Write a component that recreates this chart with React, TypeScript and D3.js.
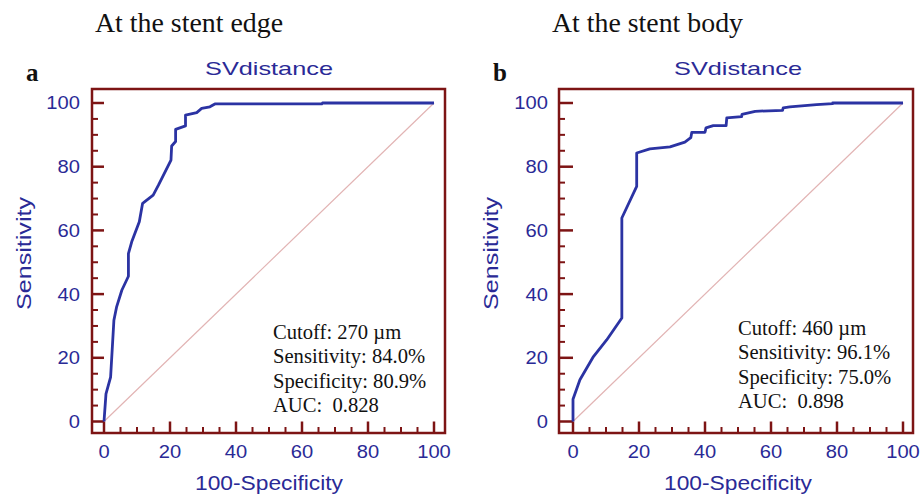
import React from "react";
import * as d3 from "d3";

const ticks = [0, 20, 40, 60, 80, 100];
const minorTicks = d3.range(0, 101, 5);

const edgeFpr = [0, 0.6, 2.0, 3.0, 3.8, 5.4, 7.4, 7.4, 8.4, 10.7, 11.7, 14.9, 16.5, 20.3, 20.5, 21.7, 21.7, 24.7, 24.7, 28.1, 29.6, 32.1, 33.6, 66, 66.2, 100];
const edgeTpr = [0, 8.7, 13.9, 31.8, 35.9, 41.2, 45.6, 52.7, 56.4, 62.7, 68.5, 71.1, 74.2, 82.1, 86.5, 87.9, 91.7, 92.8, 96.2, 97.0, 98.3, 98.8, 99.7, 99.7, 100, 100];

const bodyFpr = [0, 0, 2.1, 6.2, 10.2, 14.8, 14.8, 19.3, 19.3, 23.3, 29.4, 33.9, 35.7, 36.0, 40.0, 40.3, 42.5, 46.4, 46.6, 51.1, 51.2, 55.2, 63.5, 63.7, 65.7, 73.8, 78.7, 78.7, 100];
const bodyTpr = [0, 7.0, 13.1, 20.4, 25.6, 32.5, 63.9, 73.8, 84.3, 85.6, 86.2, 87.7, 89.1, 90.8, 90.8, 92.2, 92.9, 92.9, 95.3, 95.7, 96.4, 97.4, 97.7, 98.5, 98.8, 99.5, 99.8, 100, 100];

const edgeStats = ["Cutoff: 270 \u00b5m", "Sensitivity: 84.0%", "Specificity: 80.9%", "AUC:  0.828"];
const bodyStats = ["Cutoff: 460 \u00b5m", "Sensitivity: 96.1%", "Specificity: 75.0%", "AUC:  0.898"];

const FRAME = "#7d1414";
const BLUE_TXT = "#2a2a96";
const CURVE = "#2b33a3";
const DIAG = "#e2b4b4";
const SANS = "'Liberation Sans', Arial, sans-serif";
const SERIF = "'Liberation Serif', 'Times New Roman', serif";

type PanelProps = {
  fpr: number[];
  tpr: number[];
  stats: string[];
  x0: number;
  x1: number;
  frameL: number;
  frameR: number;
  header: string;
  headerX: number;
  headerLen: number;
  letter: string;
  letterX: number;
  statsX: number;
  statsY: number;
  yTitleX: number;
  yLabelX: number;
};

function Panel(p: PanelProps) {
  const x = d3.scaleLinear().domain([0, 100]).range([p.x0, p.x1]);
  const y = d3.scaleLinear().domain([0, 100]).range([421.5, 103]);
  const frameT = 89;
  const frameB = 433;
  const pts = p.fpr.map((f, i) => [f, p.tpr[i]] as [number, number]);
  const line = d3.line<[number, number]>().x((d) => x(d[0])).y((d) => y(d[1]));
  const cx = (p.x0 + p.x1) / 2;
  return (
    <g>
      <text x={p.headerX} y={32} fontFamily={SERIF} fontSize={26.5} fill="#111" textLength={p.headerLen} lengthAdjust="spacingAndGlyphs">{p.header}</text>
      <text x={p.letterX} y={81} fontFamily={SERIF} fontSize={25} fontWeight="bold" fill="#111">{p.letter}</text>
      <text x={cx} y={75} fontFamily={SANS} fontSize={19} fill={BLUE_TXT} textAnchor="middle" textLength={128} lengthAdjust="spacingAndGlyphs">SVdistance</text>
      <rect x={p.frameL} y={frameT} width={p.frameR - p.frameL} height={frameB - frameT} fill="white" stroke={FRAME} strokeWidth={2.5} />
      <line x1={x(0)} y1={y(0)} x2={x(100)} y2={y(100)} stroke={DIAG} strokeWidth={1.2} />
      {minorTicks.map((t) => {
        const major = t % 20 === 0;
        return (
          <line key={"y" + t} x1={p.frameL} x2={major ? x(0) : p.frameL + 6} y1={y(t)} y2={y(t)} stroke={FRAME} strokeWidth={major ? 2.5 : 2} />
        );
      })}
      {minorTicks.map((t) => {
        const major = t % 20 === 0;
        return (
          <line key={"x" + t} x1={x(t)} x2={x(t)} y1={frameB} y2={major ? y(0) : frameB - 6} stroke={FRAME} strokeWidth={major ? 2.5 : 2} />
        );
      })}
      {ticks.map((t) => (
        <text key={"yl" + t} x={p.yLabelX} y={y(t) + 6.5} fontFamily={SANS} fontSize={18} fill={BLUE_TXT} textAnchor="end" transform={`translate(${p.yLabelX},0) scale(1.12,1) translate(${-p.yLabelX},0)`}>{t}</text>
      ))}
      {ticks.map((t) => (
        <text key={"xl" + t} x={x(t)} y={458.5} fontFamily={SANS} fontSize={18} fill={BLUE_TXT} textAnchor="middle" transform={`translate(${x(t)},0) scale(1.12,1) translate(${-x(t)},0)`}>{t}</text>
      ))}
      <text x={cx} y={490} fontFamily={SANS} fontSize={19.5} fill={BLUE_TXT} textAnchor="middle" textLength={148} lengthAdjust="spacingAndGlyphs">100-Specificity</text>
      <text transform={`translate(${p.yTitleX},253.5) rotate(-90)`} fontFamily={SANS} fontSize={20.5} fill={BLUE_TXT} textAnchor="middle" textLength={113} lengthAdjust="spacingAndGlyphs">Sensitivity</text>
      <path d={line(pts) || ""} fill="none" stroke={CURVE} strokeWidth={2.8} strokeLinejoin="round" />
      {p.stats.map((s, i) => (
        <text key={"s" + i} x={p.statsX} y={p.statsY + i * 24.3} fontFamily={SERIF} fontSize={20.6} fill="#111" style={{ whiteSpace: "pre" }}>{s}</text>
      ))}
    </g>
  );
}

export default function App() {
  return (
    <svg width={921} height={498} style={{ position: "absolute", left: 0, top: 0, background: "white" }}>
      <rect x={0} y={0} width={921} height={498} fill="white" />
      <Panel fpr={edgeFpr} tpr={edgeTpr} stats={edgeStats} x0={104} x1={434} frameL={92} frameR={445}
        header="At the stent edge" headerX={95} headerLen={188} letter="a" letterX={26} statsX={273} statsY={339} yTitleX={31} yLabelX={80} />
      <Panel fpr={bodyFpr} tpr={bodyTpr} stats={bodyStats} x0={573} x1={903} frameL={559} frameR={913}
        header="At the stent body" headerX={552} headerLen={191} letter="b" letterX={493} statsX={738} statsY={335} yTitleX={498} yLabelX={548} />
    </svg>
  );
}
